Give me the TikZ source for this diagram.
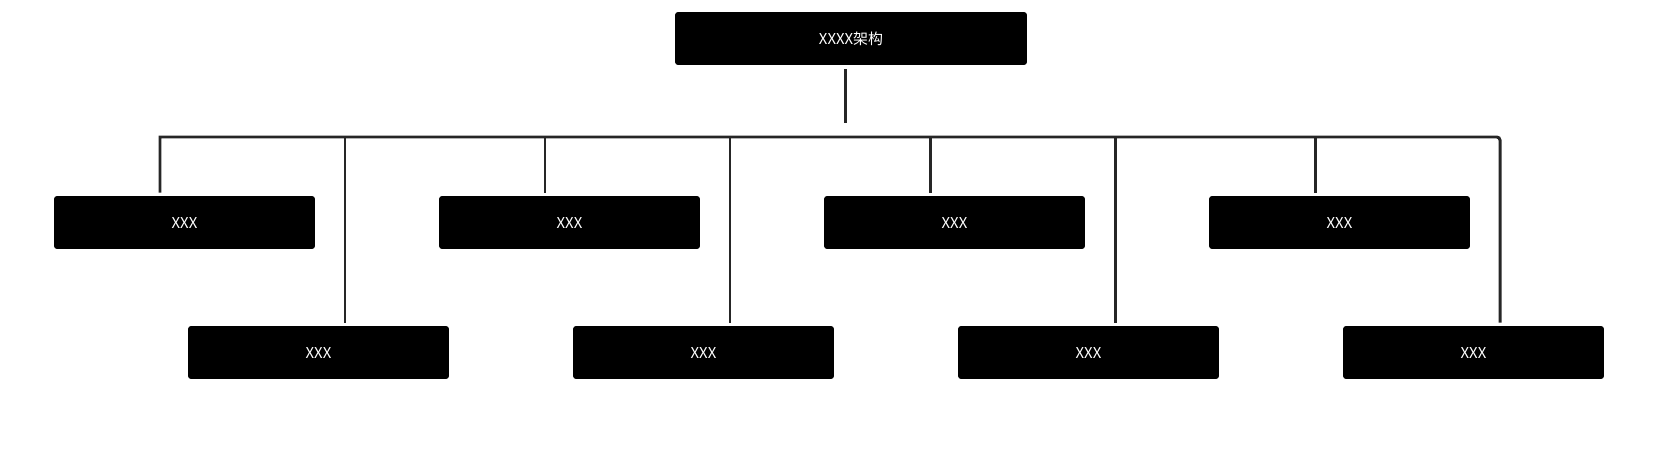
\documentclass[tikz,border=0pt]{standalone}
\usepackage{fontspec}
\setmainfont{Noto Sans CJK SC}
\usepackage{tikz}

\tikzset{
  unit/.style={fill=black, text=white, rounded corners=1.7pt, minimum width=5.22cm,
    minimum height=1.06cm, inner sep=0pt, text height=1.3ex, text depth=0pt,
    font=\fontsize{8.5}{10}\selectfont},
  link/.style={draw=black!85, line width=1.7pt},
}

\begin{document}
\begin{tikzpicture}[x=0.02cm, y=-0.02cm]
    \useasboundingbox (0,0) rectangle (1661,463);
    % boxes
    \node[unit, minimum width=7.04cm] (root) at (851,38.5) {XXXX架构};
    \foreach \i/\x in {1/184.5, 2/569.5, 3/954.5, 4/1339.5}
        \node[unit] (a\i) at (\x,222.5) {XXX};
    \foreach \i/\x in {1/318.5, 2/703.5, 3/1088.5, 4/1473.5}
        \node[unit] (b\i) at (\x,352.5) {XXX};
    % bus points
    \coordinate (hub) at (845,123);
    \foreach \i/\x in {1/160, 2/545, 3/930, 4/1315}
        \coordinate (pa\i) at (\x,137);
    \foreach \i/\x in {1/345, 2/730, 3/1115, 4/1500}
        \coordinate (pb\i) at (\x,137);
    % connectors
    \draw[link, shorten <=0.08cm] (root.south -| hub) -- (hub);
    \draw[link, line join=miter, shorten <=0.06cm, shorten >=0.06cm]
        (pa1 |- a1.north) -- (pa1) [rounded corners=1.8pt] -- (pb4) -- (pb4 |- b4.north);
    \foreach \i in {2,3,4}
        \draw[link, shorten >=0.06cm] (pa\i) -- (pa\i |- a\i.north);
    \foreach \i in {1,2,3}
        \draw[link, shorten >=0.06cm] (pb\i) -- (pb\i |- b\i.north);
\end{tikzpicture}
\end{document}
